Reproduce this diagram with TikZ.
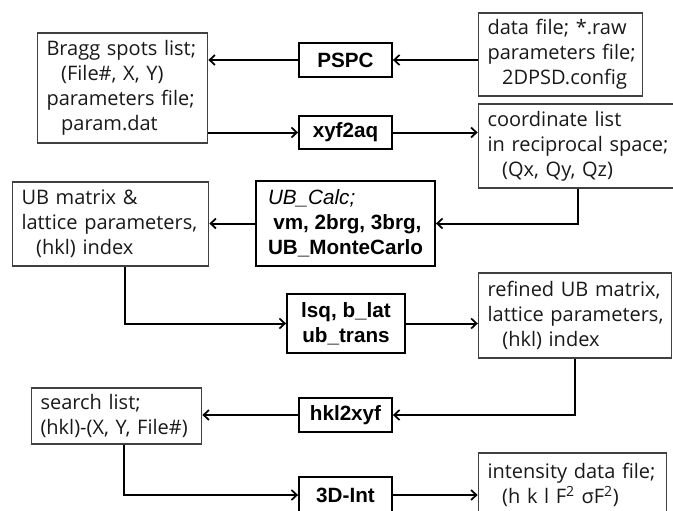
\documentclass[tikz,border=0pt]{standalone}
\usepackage{fontspec}
\setmainfont{Open Sans}
\newfontfamily\progfont{Liberation Sans}
\usetikzlibrary{arrows.meta}

\begin{document}
\begin{tikzpicture}[x=0.75pt, y=-0.75pt,
    filebox/.style={draw=black!75, line width=0.8pt, align=left, inner xsep=7pt,
        text=black!90, font=\fontsize{15}{18.75}\selectfont},
    progbox/.style={draw=black, line width=1.4pt, align=center, inner sep=0pt,
        font=\progfont\bfseries\fontsize{15.5}{18.75}\selectfont},
    flow/.style={line width=1.5pt, -{Straight Barb[length=4pt, width=7.5pt, line width=1.3pt]}}]
    \useasboundingbox (0,0) rectangle (673,510);
    \fill[white] (0,0) rectangle (673,510);
    \clip (0,0) rectangle (673,510);

    % input / output lists
    \node[filebox, text width=114pt, minimum height=82.5pt] (bragg) at (122.5,88)
        {\mbox{Bragg spots list;}\\\hspace*{11pt}\mbox{(File\#, X, Y)}\\\mbox{parameters file;}\\\hspace*{11pt}param.dat};
    \node[filebox, text width=109.5pt, minimum height=62.25pt] (data) at (560.5,54.5)
        {\mbox{data file; *.raw}\\\mbox{parameters file;}\\\hspace*{11pt}2DPSD.config};
    \node[filebox, text width=135pt, minimum height=63pt] (coord) at (577.5,146)
        {\mbox{coordinate list}\\\mbox{in reciprocal space;}\\\hspace*{11pt}\mbox{(Qx, Qy, Qz)}};
    \node[filebox, text width=133.5pt, minimum height=63pt] (ub) at (110.5,224)
        {\mbox{UB matrix \&}\\\mbox{lattice parameters,}\\\hspace*{11pt}\mbox{(hkl) index}};
    \node[filebox, text width=131pt, minimum height=63.75pt] (refined) at (575,315.5)
        {\mbox{refined UB matrix,}\\\mbox{lattice parameters,}\\\hspace*{11pt}\mbox{(hkl) index}};
    \node[filebox, text width=114pt, minimum height=42pt] (search) at (116.5,416)
        {\mbox{search list;}\\\mbox{(hkl)-(X, Y, File\#)}};
    \node[filebox, text width=127.5pt, minimum height=48pt] (intensity) at (572.5,485)
        {\mbox{intensity data file;}\\\hspace*{11pt}\mbox{(h k l F\textsuperscript{2} σF\textsuperscript{2})}};

    % programs
    \node[progbox, minimum width=69.75pt, minimum height=25.5pt] (pspc) at (345.5,60) {PSPC};
    \node[progbox, minimum width=69.75pt, minimum height=24.75pt] (xyf) at (345.5,132.5) {xyf2aq};
    \node[progbox, align=left, inner xsep=7.5pt, minimum width=134.25pt, minimum height=63.75pt] (ubcalc) at (345.5,223.5)
        {{\itshape\mdseries UB\_Calc;}\\\hspace*{4pt}vm, 2brg, 3brg,\\UB\_MonteCarlo};
    \node[progbox, minimum width=88.5pt, minimum height=44.25pt] (lsq) at (346,323.5) {lsq, b\_lat\\ub\_trans};
    \node[progbox, minimum width=69.75pt, minimum height=25.5pt] (hkl) at (345.5,415) {hkl2xyf};
    \node[progbox, minimum width=69.75pt, minimum height=27pt] (int) at (345.5,495) {3D-Int};

    % flow
    \draw[flow] (data.west |- pspc) -- (pspc.east);
    \draw[flow] (pspc.west) -- (bragg.east |- pspc);
    \draw[flow] (bragg.east |- xyf) -- (xyf.west);
    \draw[flow] (xyf.east) -- (coord.west |- xyf);
    \draw[flow] (coord.south) |- (ubcalc.east);
    \draw[flow] (ubcalc.west) -- (ub.east |- ubcalc);
    \draw[flow] ([xshift=10.5pt]ub.south) |- (lsq.west);
    \draw[flow] (lsq.east) -- (refined.west |- lsq);
    \draw[flow] (refined.south) |- (hkl.east);
    \draw[flow] (hkl.west) -- (search.east |- hkl);
    \draw[flow] ([xshift=5.6pt]search.south) |- (int.west);
    \draw[flow] (int.east) -- (intensity.west |- int);
\end{tikzpicture}
\end{document}
